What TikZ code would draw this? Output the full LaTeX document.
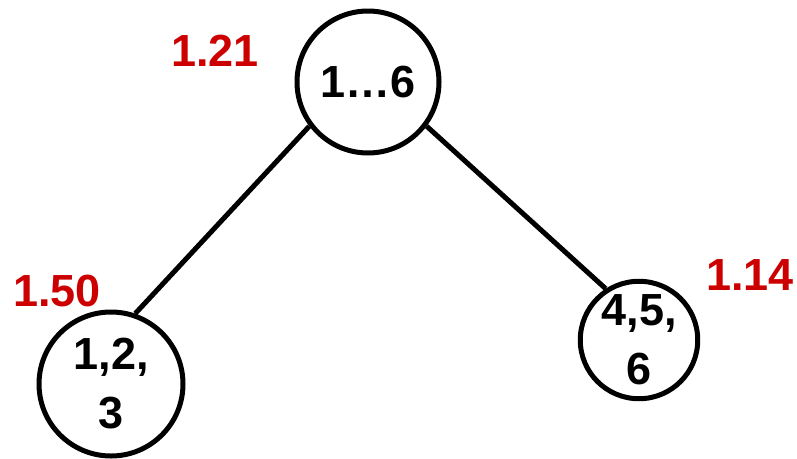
\documentclass[tikz,border=0pt]{standalone}
\usepackage{fontspec}
\setmainfont{Liberation Sans}
\definecolor{labred}{RGB}{204,0,0}
\begin{document}
\begin{tikzpicture}[x=1pt,y=-1pt,
  treenode/.style={circle,draw=black,line width=5pt,inner sep=0pt,align=center,
    font=\fontsize{45}{59}\selectfont\bfseries},
  costlabel/.style={text=labred,inner sep=0pt,font=\fontsize{45}{52}\selectfont\bfseries},
  edge/.style={draw=black,line width=5pt}]
\useasboundingbox (0,0) rectangle (797,458);
\node[treenode,minimum size=142pt] (root) at (368,82) {1…6};
\node[treenode,minimum size=144pt] (left) at (111,384) {1,2,\\3};
\node[treenode,minimum size=112pt] (right) at (639,340) {4,5,\\6};
\node[costlabel] (lroot) at (215,51) {1.21};
\node[costlabel] (lleft) at (57,291) {1.50};
\node[costlabel] (lright) at (750,275) {1.14};
\path[edge] (root.217) -- (left.71);
\path[edge] (root.323) -- (right.123);
\end{tikzpicture}
\end{document}
